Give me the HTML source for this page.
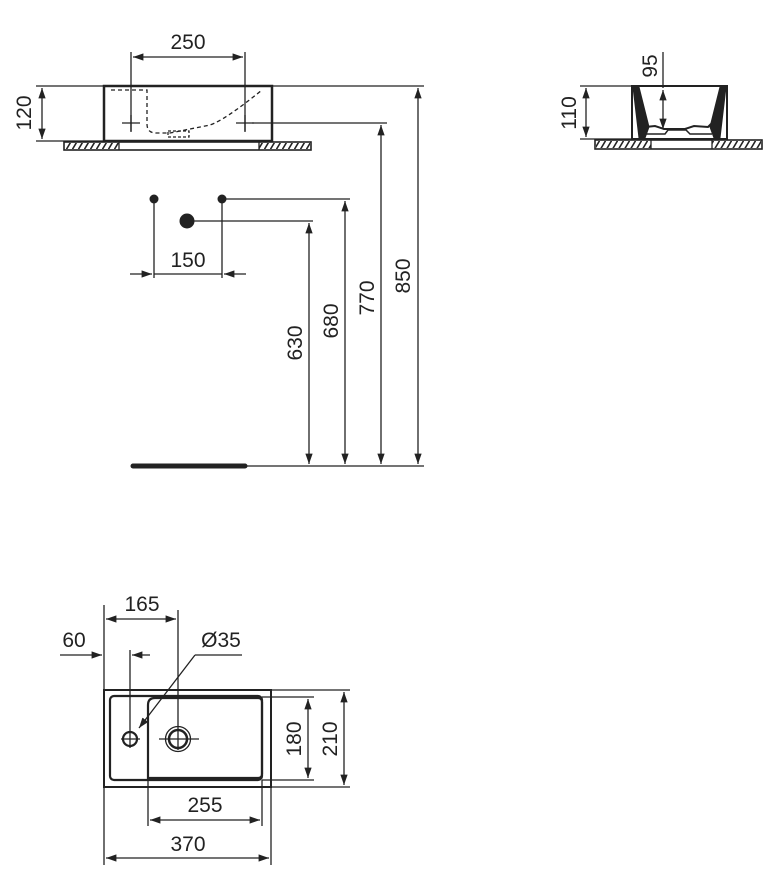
<!DOCTYPE html>
<html><head><style>body{margin:0;background:#fff}svg{display:block}text{font-family:"Liberation Sans",sans-serif;font-size:21px;fill:#222}</style></head><body>
<svg width="774" height="895" viewBox="0 0 774 895" xmlns="http://www.w3.org/2000/svg">
<defs>
<marker id="a" viewBox="0 0 10 10" refX="10" refY="5" markerWidth="8" markerHeight="8" orient="auto-start-reverse"><path d="M0,1.5L10,5L0,8.5z" fill="#222"/></marker>
<pattern id="h" width="6" height="10" patternUnits="userSpaceOnUse"><rect width="6" height="10" fill="#fff"/><path d="M0,10L6,0" stroke="#222" stroke-width="1.6"/></pattern>
</defs>
<g stroke="#222" stroke-width="1.3" fill="none">
<rect x="64" y="142" width="247" height="8" fill="#fff" stroke-width="1.6"/>
<rect x="65" y="143" width="54" height="6" fill="url(#h)" stroke="none"/>
<rect x="259" y="143" width="51" height="6" fill="url(#h)" stroke="none"/>
<line x1="119" y1="142" x2="119" y2="150"/><line x1="259" y1="142" x2="259" y2="150"/>
<rect x="104" y="86" width="168" height="55" stroke-width="2.5" fill="#fff"/>
<path d="M111,90H147V124Q147,133 156,133H170L195,128L210,125Q225,120 262,90" stroke-dasharray="4,3"/>
<rect x="168" y="131" width="21" height="6" stroke-dasharray="3,2"/>
<path d="M122,123H140M131,115V131M236,123H254M245,115V131"/>
<line x1="36" y1="86" x2="424" y2="86"/>
<line x1="36" y1="141" x2="104" y2="141"/>
<line x1="42" y1="88" x2="42" y2="139" marker-start="url(#a)" marker-end="url(#a)"/>
<line x1="131" y1="52" x2="131" y2="132"/><line x1="245" y1="52" x2="245" y2="132"/>
<line x1="133" y1="57" x2="243" y2="57" marker-start="url(#a)" marker-end="url(#a)"/>
<line x1="252" y1="123" x2="387" y2="123"/>
<line x1="154" y1="199" x2="154" y2="278"/><line x1="222" y1="199" x2="222" y2="278"/>
<line x1="130" y1="274" x2="152" y2="274" marker-end="url(#a)"/>
<line x1="246" y1="274" x2="224" y2="274" marker-end="url(#a)"/>
<line x1="154" y1="274" x2="222" y2="274"/>
<line x1="222" y1="199" x2="350" y2="199"/>
<line x1="187" y1="221" x2="313" y2="221"/>
<line x1="309" y1="223" x2="309" y2="464" marker-start="url(#a)" marker-end="url(#a)"/>
<line x1="345" y1="201" x2="345" y2="464" marker-start="url(#a)" marker-end="url(#a)"/>
<line x1="381" y1="125" x2="381" y2="464" marker-start="url(#a)" marker-end="url(#a)"/>
<line x1="418" y1="88" x2="418" y2="464" marker-start="url(#a)" marker-end="url(#a)"/>
<line x1="245" y1="466" x2="424" y2="466"/>
<line x1="133" y1="466" x2="245" y2="466" stroke-width="5" stroke-linecap="round"/>
<rect x="595" y="140" width="167" height="9" fill="#fff" stroke-width="1.6"/>
<rect x="596" y="141" width="55" height="7" fill="url(#h)" stroke="none"/>
<rect x="712" y="141" width="49" height="7" fill="url(#h)" stroke="none"/>
<line x1="651" y1="140" x2="651" y2="149"/><line x1="712" y1="140" x2="712" y2="149"/>
<path d="M632,86H727V139H632Z" stroke-width="2"/>
<path d="M633,87L639,87L649,127L645,138H639Z M726,87L720,87L710,127L714,138H720Z" fill="#222" stroke-width="1"/>
<path d="M645,127L655,126L664,129H685L694,126L708,127L715,120" stroke-width="2"/>
<path d="M645,134L665,134L668,130H686L690,134L712,134" stroke-width="1.5"/>
<line x1="580" y1="86" x2="632" y2="86"/><line x1="580" y1="139" x2="632" y2="139"/>
<line x1="586" y1="88" x2="586" y2="137" marker-start="url(#a)" marker-end="url(#a)"/>
<line x1="663" y1="52" x2="663" y2="88"/>
<line x1="663" y1="90" x2="663" y2="129" marker-start="url(#a)" marker-end="url(#a)"/>
<rect x="104" y="690" width="167" height="97" stroke-width="2"/>
<rect x="110" y="696" width="152" height="84" rx="4" stroke-width="2.2"/>
<path d="M148,780V705Q148,698 155,698H258Q262,698 262,702V774Q262,778 258,778H148" stroke-width="2.2"/>
<circle cx="130" cy="739" r="7" stroke-width="2.2"/>
<path d="M121,739H140M130,650V748"/>
<circle cx="178" cy="739" r="12.5"/><circle cx="178" cy="739" r="9" stroke-width="2.5"/>
<path d="M159,739H199M178,610V750"/>
<line x1="104" y1="605" x2="104" y2="865"/>
<line x1="106" y1="619" x2="176" y2="619" marker-start="url(#a)" marker-end="url(#a)"/>
<line x1="60" y1="655" x2="102" y2="655" marker-end="url(#a)"/>
<line x1="150" y1="655" x2="132" y2="655" marker-end="url(#a)"/>
<line x1="242" y1="655" x2="195" y2="655"/>
<line x1="195" y1="655" x2="139" y2="728" marker-end="url(#a)"/>
<line x1="262" y1="697" x2="314" y2="697"/><line x1="262" y1="780" x2="314" y2="780"/>
<line x1="271" y1="690" x2="350" y2="690"/><line x1="271" y1="787" x2="350" y2="787"/>
<line x1="308" y1="699" x2="308" y2="778" marker-start="url(#a)" marker-end="url(#a)"/>
<line x1="344" y1="692" x2="344" y2="785" marker-start="url(#a)" marker-end="url(#a)"/>
<line x1="148" y1="778" x2="148" y2="826"/><line x1="262" y1="780" x2="262" y2="826"/>
<line x1="150" y1="820" x2="260" y2="820" marker-start="url(#a)" marker-end="url(#a)"/>
<line x1="271" y1="787" x2="271" y2="865"/>
<line x1="106" y1="858" x2="269" y2="858" marker-start="url(#a)" marker-end="url(#a)"/>
</g>
<circle cx="154" cy="199" r="4.5" fill="#222"/><circle cx="222" cy="199" r="4.5" fill="#222"/><circle cx="187" cy="221" r="7.5" fill="#222"/>
<text x="188" y="49" text-anchor="middle">250</text>
<text transform="translate(31,113) rotate(-90)" text-anchor="middle">120</text>
<text x="188" y="267" text-anchor="middle">150</text>
<text transform="translate(302,343) rotate(-90)" text-anchor="middle">630</text>
<text transform="translate(338,321) rotate(-90)" text-anchor="middle">680</text>
<text transform="translate(374,298) rotate(-90)" text-anchor="middle">770</text>
<text transform="translate(410,276) rotate(-90)" text-anchor="middle">850</text>
<text transform="translate(576,113) rotate(-90)" text-anchor="middle">110</text>
<text transform="translate(657,66) rotate(-90)" text-anchor="middle">95</text>
<text x="142" y="611" text-anchor="middle">165</text>
<text x="74" y="647" text-anchor="middle">60</text>
<text x="221" y="647" text-anchor="middle">Ø35</text>
<text transform="translate(301,739) rotate(-90)" text-anchor="middle">180</text>
<text transform="translate(337,739) rotate(-90)" text-anchor="middle">210</text>
<text x="205" y="812" text-anchor="middle">255</text>
<text x="188" y="851" text-anchor="middle">370</text>
</svg>
</body></html>
